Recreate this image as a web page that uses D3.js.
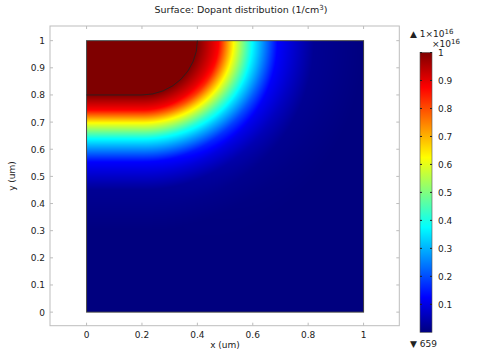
<!DOCTYPE html>
<html>
<head>
<meta charset="utf-8">
<script src="https://d3js.org/d3.v7.min.js"></script>
<style>
  body { margin: 0; padding: 0; background: #fff; }
  text { font-family: "DejaVu Sans", sans-serif; fill: #222; }
</style>
</head>
<body>
<div id="chart"></div>
<script>
// tick values
var xTicks = [0, 0.2, 0.4, 0.6, 0.8, 1];
var yTicks = [0, 0.1, 0.2, 0.3, 0.4, 0.5, 0.6, 0.7, 0.8, 0.9, 1];
var cbTicks = [0.1, 0.2, 0.3, 0.4, 0.5, 0.6, 0.7, 0.8, 0.9, 1];

// jet colour table
var jetStops = [0, 0.125, 0.375, 0.625, 0.875, 1];
var jetColors = ["#00007f", "#0000ff", "#00ffff", "#ffff00", "#ff0000", "#7f0000"];

// dopant profile (x1e16) vs distance beyond the saturated zone
var depthDist = [0, 0.055, 0.103, 0.162, 0.247, 0.35, 0.5, 2];
var depthVal = [1, 0.875, 0.625, 0.375, 0.125, 0.02, 0, 0];
var lateralDist = [0, 0.077, 0.131, 0.198, 0.289, 0.42, 0.6, 2];
var lateralVal = [1, 0.875, 0.625, 0.375, 0.125, 0.02, 0, 0];

// saturated zone: within 0.2 um of the top segment x in [0, 0.2]
var srcEnd = 0.2, srcRadius = 0.2;
var maxLabel = "1×10", maxExp = "16", minLabel = "659";

var width = 482, height = 355;
var svg = d3.select("#chart").append("svg")
    .attr("width", width).attr("height", height);

var x = d3.scaleLinear().domain([-0.132, 1.129]).range([50, 399.3]);
var y = d3.scaleLinear().domain([-0.05, 1.054]).range([325.7, 26]);
var cb = d3.scaleLinear().domain([0, 1]).range([332.3, 52.5]);
var color = d3.scaleLinear().domain(jetStops).range(jetColors).clamp(true);
var depthProf = d3.scaleLinear().domain(depthDist).range(depthVal).clamp(true);
var latProf = d3.scaleLinear().domain(lateralDist).range(lateralVal).clamp(true);

function dopant(px, py) {
    var dx = Math.max(0, px - srcEnd), dy = 1 - py;
    var r = Math.sqrt(dx * dx + dy * dy);
    var ex = r - srcRadius;
    if (ex <= 0) return 1;
    var w = r > 0 ? (dx / r) * (dx / r) : 0;
    return depthProf(ex) * (1 - w) + latProf(ex) * w;
}

// title
var title = svg.append("text")
    .attr("x", 241).attr("y", 13)
    .attr("text-anchor", "middle")
    .style("font-size", "9.5px");
title.append("tspan").text("Surface: Dopant distribution (1/cm");
title.append("tspan").attr("dy", -3).style("font-size", "7px").text("3");
title.append("tspan").attr("dy", 3).text(")");

// axes frame
var frame = svg.append("g");
frame.append("rect")
    .attr("x", x.range()[0]).attr("y", y.range()[1])
    .attr("width", x.range()[1] - x.range()[0])
    .attr("height", y.range()[0] - y.range()[1])
    .attr("fill", "none").attr("stroke", "#bdbdbd");

var tl = 3;
frame.selectAll(".xb").data(xTicks).enter().append("line")
    .attr("x1", d => x(d)).attr("x2", d => x(d))
    .attr("y1", y.range()[0]).attr("y2", y.range()[0] - tl)
    .attr("stroke", "#bdbdbd");
frame.selectAll(".xt").data(xTicks).enter().append("line")
    .attr("x1", d => x(d)).attr("x2", d => x(d))
    .attr("y1", y.range()[1]).attr("y2", y.range()[1] + tl)
    .attr("stroke", "#bdbdbd");
frame.selectAll(".yl").data(yTicks).enter().append("line")
    .attr("y1", d => y(d)).attr("y2", d => y(d))
    .attr("x1", x.range()[0]).attr("x2", x.range()[0] + tl)
    .attr("stroke", "#bdbdbd");
frame.selectAll(".yr").data(yTicks).enter().append("line")
    .attr("y1", d => y(d)).attr("y2", d => y(d))
    .attr("x1", x.range()[1]).attr("x2", x.range()[1] - tl)
    .attr("stroke", "#bdbdbd");

var fmt = d => String(+d.toFixed(1));
svg.selectAll(".xl").data(xTicks).enter().append("text")
    .attr("x", d => x(d)).attr("y", 338)
    .attr("text-anchor", "middle")
    .style("font-size", "9px")
    .text(fmt);
svg.selectAll(".ylab").data(yTicks).enter().append("text")
    .attr("x", 45).attr("y", d => y(d) + 3.5)
    .attr("text-anchor", "end")
    .style("font-size", "9px")
    .text(fmt);

svg.append("text")
    .attr("x", 225).attr("y", 348)
    .attr("text-anchor", "middle")
    .style("font-size", "9px")
    .text("x (um)");
svg.append("text")
    .attr("transform", "translate(15,176) rotate(-90)")
    .attr("text-anchor", "middle")
    .style("font-size", "9px")
    .text("y (um)");

// surface
var x0 = Math.round(x(0)), x1 = Math.round(x(1));
var y0 = Math.round(y(1)), y1 = Math.round(y(0));
var cw = x1 - x0, ch = y1 - y0;
var canvas = document.createElement("canvas");
canvas.width = cw; canvas.height = ch;
var ctx = canvas.getContext("2d");
var img = ctx.createImageData(cw, ch);
for (var j = 0; j < ch; j++) {
    var py = y.invert(y0 + j + 0.5);
    for (var i = 0; i < cw; i++) {
        var px = x.invert(x0 + i + 0.5);
        var c = d3.rgb(color(dopant(px, py)));
        var k = (j * cw + i) * 4;
        img.data[k] = c.r; img.data[k + 1] = c.g; img.data[k + 2] = c.b; img.data[k + 3] = 255;
    }
}
ctx.putImageData(img, 0, 0);
svg.append("image")
    .attr("x", x0).attr("y", y0)
    .attr("width", cw).attr("height", ch)
    .attr("href", canvas.toDataURL());

svg.append("rect")
    .attr("x", x(0)).attr("y", y(1))
    .attr("width", x(1) - x(0)).attr("height", y(0) - y(1))
    .attr("fill", "none").attr("stroke", "#444").attr("stroke-width", 1);

// saturated zone boundary
var rx = x(srcRadius) - x(0), ry = y(1 - srcRadius) - y(1);
svg.append("path")
    .attr("d", "M" + x(0) + "," + y(1 - srcRadius) +
        "L" + x(srcEnd) + "," + y(1 - srcRadius) +
        "A" + rx + "," + ry + " 0 0 0 " + x(srcEnd + srcRadius) + "," + y(1))
    .attr("fill", "none").attr("stroke", "#222").attr("stroke-width", 0.8);

// colour bar
var defs = svg.append("defs");
var grad = defs.append("linearGradient").attr("id", "jet")
    .attr("x1", 0).attr("y1", 1).attr("x2", 0).attr("y2", 0);
grad.selectAll("stop").data(jetStops).enter().append("stop")
    .attr("offset", d => d)
    .attr("stop-color", (d, i) => jetColors[i]);

var cbx = 420, cbw = 12;
svg.append("rect")
    .attr("x", cbx).attr("y", cb(1))
    .attr("width", cbw).attr("height", cb(0) - cb(1))
    .attr("fill", "url(#jet)").attr("stroke", "#555").attr("stroke-width", 0.6);
svg.selectAll(".cbl").data(cbTicks).enter().append("line")
    .attr("x1", cbx).attr("x2", cbx + 2)
    .attr("y1", d => cb(d)).attr("y2", d => cb(d))
    .attr("stroke", "#222");
svg.selectAll(".cbr").data(cbTicks).enter().append("line")
    .attr("x1", cbx + cbw - 2).attr("x2", cbx + cbw)
    .attr("y1", d => cb(d)).attr("y2", d => cb(d))
    .attr("stroke", "#222");
svg.selectAll(".cbt").data(cbTicks).enter().append("text")
    .attr("x", 438).attr("y", d => cb(d) + 3.5)
    .style("font-size", "9px")
    .text(fmt);

var top1 = svg.append("text").attr("x", 410).attr("y", 37).style("font-size", "9px");
top1.append("tspan").text("▲ " + maxLabel);
top1.append("tspan").attr("dy", -3).style("font-size", "7px").text(maxExp);
var top2 = svg.append("text").attr("x", 432).attr("y", 47).style("font-size", "9px");
top2.append("tspan").text("×10");
top2.append("tspan").attr("dy", -3).style("font-size", "7px").text(maxExp);
svg.append("text").attr("x", 410).attr("y", 347).style("font-size", "9px")
    .text("▼ " + minLabel);
</script>
</body>
</html>
